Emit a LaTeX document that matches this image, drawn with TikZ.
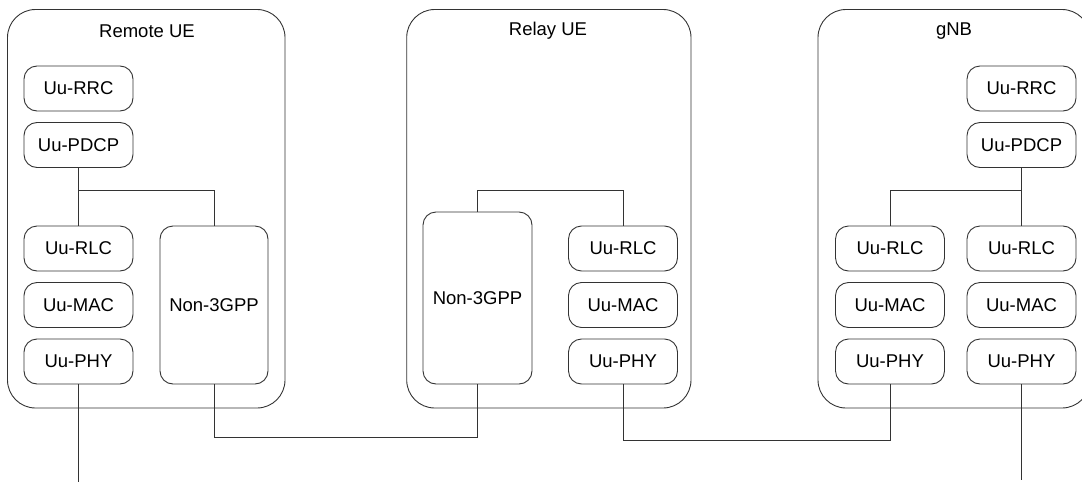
\documentclass[tikz,border=0pt]{standalone}
\usepackage{fontspec}
\setmainfont{Liberation Sans}
\usetikzlibrary{calc}
\begin{document}
\begin{tikzpicture}[x=1pt,y=-1pt,
  lc/.style={draw=black!80,line width=0.9pt},
  outer/.style={lc,rectangle,rounded corners=28pt,inner sep=0pt},
  layer/.style={lc,rectangle,rounded corners=13pt,minimum width=109pt,minimum height=45pt,inner sep=0pt,font=\fontsize{18.5}{22}\selectfont},
  title/.style={font=\fontsize{18.5}{22}\selectfont,inner sep=0pt},
  wire/.style={draw=black!80,line width=0.9pt}]
\useasboundingbox (0,0) rectangle (1082,482);
\begin{scope}
\clip (0,0) rectangle (1082,482);
% outer boxes
\node[outer,minimum width=277.5pt,minimum height=398.5pt] (remote) at (146.25,208.75) {};
\node[outer,minimum width=284.3pt,minimum height=398.5pt] (relay) at (548.85,208.75) {};
\node[outer,minimum width=272pt,minimum height=398.5pt] (gnb) at (954,208.75) {};
\end{scope}
\node[title] (tremote) at (147,31) {Remote UE};
\node[title] (trelay) at (548,31) {Relay UE};
\node[title] (tgnb) at (954,31) {gNB};
% Remote UE layers
\node[layer] (rrrc) at (78.5,88.5) {Uu-RRC};
\node[layer] (rpdcp) at (78.5,145) {Uu-PDCP};
\node[layer] (rrlc) at (78.5,248.5) {Uu-RLC};
\node[layer] (rmac) at (78.5,305) {Uu-MAC};
\node[layer] (rphy) at (78.5,361.5) {Uu-PHY};
\node[layer,minimum width=108pt,minimum height=158pt] (rnon) at (214,305) {Non-3GPP};
% Relay UE layers
\node[layer,minimum width=109pt,minimum height=172pt] (lnon) at (477.5,298) {Non-3GPP};
\node[layer] (lrlc) at (623,248.5) {Uu-RLC};
\node[layer] (lmac) at (623,305) {Uu-MAC};
\node[layer] (lphy) at (623,361.5) {Uu-PHY};
% gNB layers
\node[layer] (grrc) at (1021.5,88.5) {Uu-RRC};
\node[layer] (gpdcp) at (1021.5,145) {Uu-PDCP};
\node[layer] (grlca) at (890,248.5) {Uu-RLC};
\node[layer] (gmaca) at (890,305) {Uu-MAC};
\node[layer] (gphya) at (890,361.5) {Uu-PHY};
\node[layer] (grlcb) at (1021.5,248.5) {Uu-RLC};
\node[layer] (gmacb) at (1021.5,305) {Uu-MAC};
\node[layer] (gphyb) at (1021.5,361.5) {Uu-PHY};
% bus levels
\coordinate (busr) at (0,190.7);
\coordinate (busl) at (0,190.7);
\coordinate (busg) at (0,190.3);
\coordinate (link1) at (0,437.7);
\coordinate (link2) at (0,440);
\coordinate (rend) at (78.5,481.5);
\coordinate (gend) at (1021.5,480);
% Remote UE connectors
\draw[wire] (rpdcp.south) -- (rrlc.north);
\draw[wire] (rpdcp.south |- busr) -| (rnon.north);
\draw[wire] (rphy.south) -- (rend);
% Relay UE connectors
\draw[wire] (lnon.north) |- (busl -| lrlc.north) -- (lrlc.north);
% gNB connectors
\draw[wire] (gpdcp.south) -- (grlcb.north);
\draw[wire] (gpdcp.south |- busg) -| (grlca.north);
\draw[wire] (gphyb.south) -- (gend);
% inter-node links
\draw[wire] (rnon.south) -- (rnon.south |- link1) -| (lnon.south);
\draw[wire] (lphy.south) -- (lphy.south |- link2) -| (gphya.south);
\end{tikzpicture}
\end{document}
